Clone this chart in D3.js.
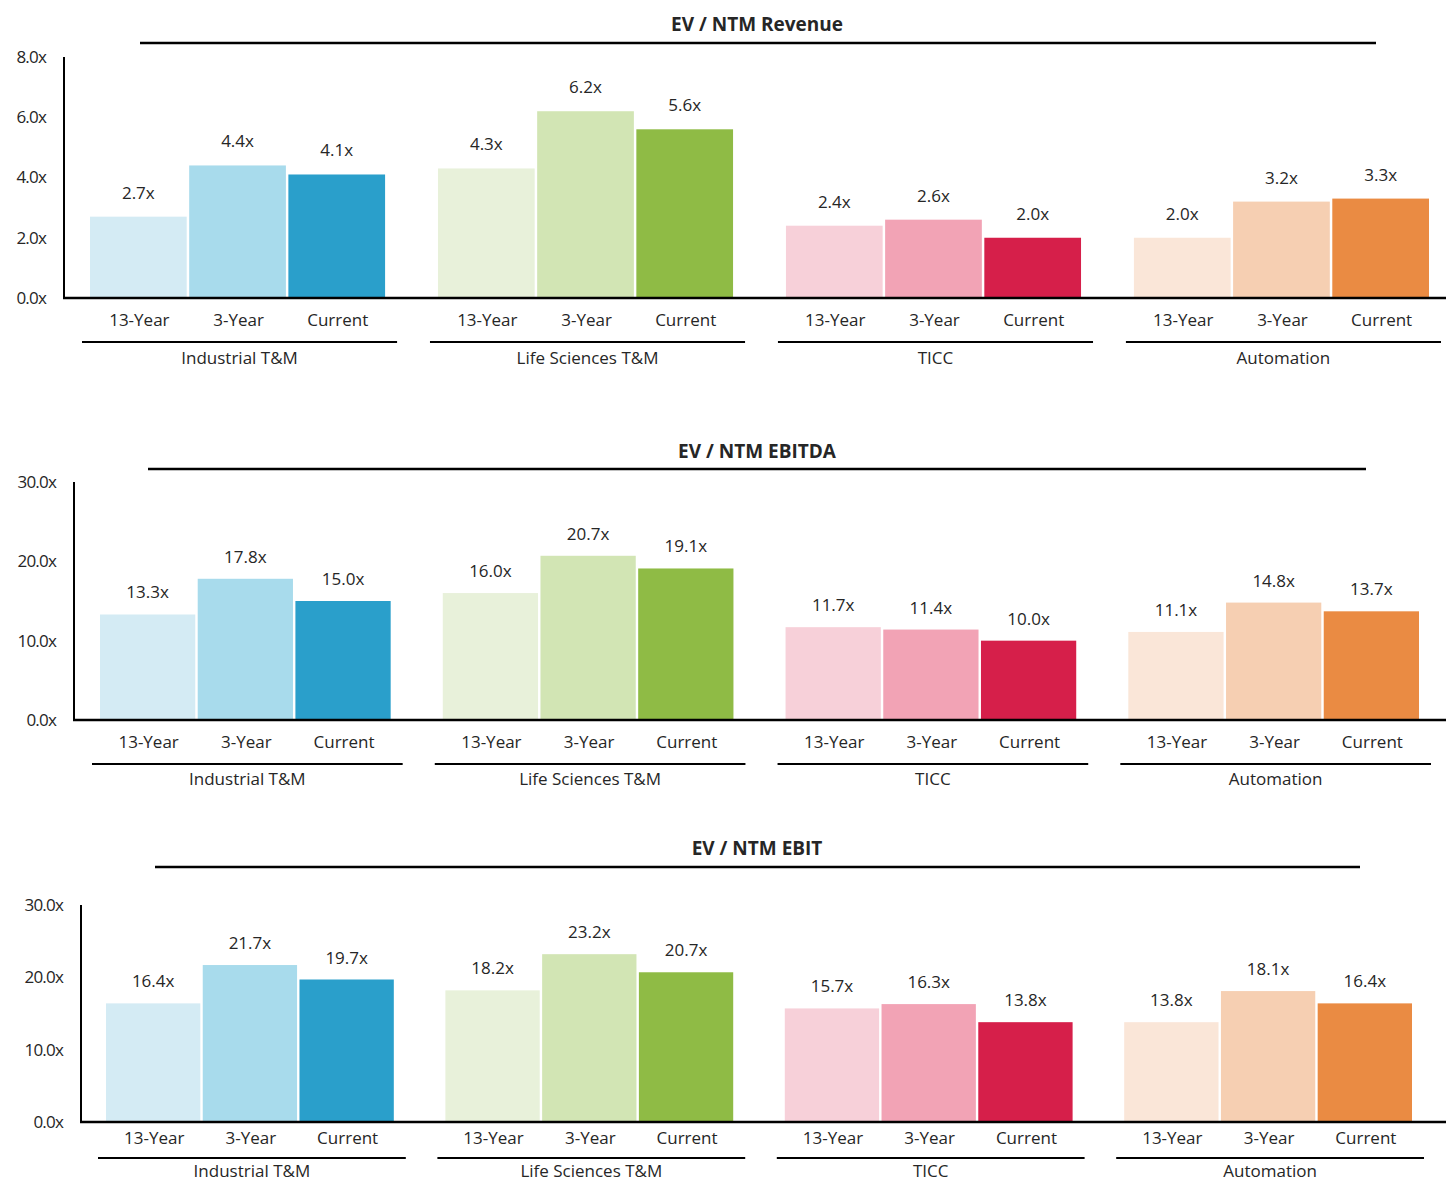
<!DOCTYPE html>
<html>
<head>
<meta charset="utf-8">
<script src="https://cdn.jsdelivr.net/npm/d3@7"></script>
<style>
  html, body { margin: 0; padding: 0; background: #fff; }
  svg { display: block; }
  text { font-family: "Open Sans", "DejaVu Sans", sans-serif; fill: #262626; }
</style>
</head>
<body>
<svg id="chart" width="1446" height="1181"></svg>
<script>
// ---- data ----
const sectors = ["Industrial T&M", "Life Sciences T&M", "TICC", "Automation"];
const periods = ["13-Year", "3-Year", "Current"];
const titles = ["EV / NTM Revenue", "EV / NTM EBITDA", "EV / NTM EBIT"];

const revenueValues = [[2.7, 4.4, 4.1], [4.3, 6.2, 5.6], [2.4, 2.6, 2.0], [2.0, 3.2, 3.3]];
const ebitdaValues  = [[13.3, 17.8, 15.0], [16.0, 20.7, 19.1], [11.7, 11.4, 10.0], [11.1, 14.8, 13.7]];
const ebitValues    = [[16.4, 21.7, 19.7], [18.2, 23.2, 20.7], [15.7, 16.3, 13.8], [13.8, 18.1, 16.4]];

const revenueTicks = [0, 2, 4, 6, 8];
const ebitdaTicks  = [0, 10, 20, 30];
const ebitTicks    = [0, 10, 20, 30];

const sectorColors = [
  ["#d4ebf4", "#a8dbec", "#2a9fcb"],
  ["#e8f1da", "#d2e5b4", "#8fbb45"],
  ["#f7d0d9", "#f2a3b5", "#d61f4a"],
  ["#fae6d8", "#f6cfb2", "#ea8b43"]
];

// ---- layout (positions only) ----
const panels = [
  { values: revenueValues, ticks: revenueTicks, max: 8,  axisX: 64, yTop: 57,  yBase: 298,
    gx0: 90,  gx1: 1429, titleY: 31,  ruleY: 43,  ruleX: [140, 1376],
    catY: 326, lineY: 342, grpY: 364, lblOff: 18 },
  { values: ebitdaValues, ticks: ebitdaTicks, max: 30, axisX: 74, yTop: 482, yBase: 720,
    gx0: 100, gx1: 1419, titleY: 458, ruleY: 469, ruleX: [148, 1366],
    catY: 748, lineY: 764, grpY: 785, lblOff: 16 },
  { values: ebitValues, ticks: ebitTicks, max: 30, axisX: 81, yTop: 905, yBase: 1122,
    gx0: 106, gx1: 1412, titleY: 855, ruleY: 867, ruleX: [155, 1360],
    catY: 1144, lineY: 1158, grpY: 1177, lblOff: 16 }
];

const svg = d3.select("#chart");

panels.forEach((p, pi) => {
  const g = svg.append("g");

  const y = d3.scaleLinear().domain([0, p.max]).range([p.yBase, p.yTop]);
  const x0 = d3.scaleBand().domain(sectors).range([p.gx0, p.gx1]).paddingInner(0.152).paddingOuter(0);
  const x1 = d3.scaleBand().domain(periods).range([0, x0.bandwidth()]).paddingInner(0.025).paddingOuter(0);

  // title
  g.append("text")
    .attr("x", 757).attr("y", p.titleY)
    .attr("text-anchor", "middle")
    .style("font-size", "19px").style("font-weight", "700")
    .text(titles[pi]);
  g.append("line")
    .attr("x1", p.ruleX[0]).attr("x2", p.ruleX[1])
    .attr("y1", p.ruleY).attr("y2", p.ruleY)
    .attr("stroke", "#000").attr("stroke-width", 2.5);

  // y axis tick labels
  const yAxis = d3.axisLeft(y).tickValues(p.ticks).tickSize(0).tickPadding(18)
    .tickFormat(d => d3.format(".1f")(d) + "x");
  const ya = g.append("g").attr("transform", `translate(${p.axisX},0)`).call(yAxis);
  ya.attr("font-size", null).attr("font-family", null);
  ya.select(".domain").remove();
  ya.selectAll("text")
    .style("font-family", "'Open Sans', sans-serif")
    .style("font-size", "17px").attr("fill", "#262626").style("letter-spacing", "-0.8px");

  // bars
  sectors.forEach((s, si) => {
    const sg = g.append("g").attr("transform", `translate(${x0(s)},0)`);
    sg.selectAll("rect")
      .data(p.values[si])
      .join("rect")
      .attr("x", (d, i) => x1(periods[i]))
      .attr("y", d => y(d))
      .attr("width", x1.bandwidth())
      .attr("height", d => y(0) - y(d))
      .attr("fill", (d, i) => sectorColors[si][i]);

    sg.selectAll("text.val")
      .data(p.values[si])
      .join("text")
      .attr("class", "val")
      .attr("x", (d, i) => x1(periods[i]) + x1.bandwidth() / 2)
      .attr("y", d => y(d) - p.lblOff)
      .attr("text-anchor", "middle")
      .style("font-size", "17px")
      .text(d => d3.format(".1f")(d) + "x");

    sg.selectAll("text.cat")
      .data(periods)
      .join("text")
      .attr("class", "cat")
      .attr("x", d => x1(d) + x1.bandwidth() / 2 + 1)
      .attr("y", p.catY)
      .attr("text-anchor", "middle")
      .style("font-size", "17px")
      .text(d => d);

    const cx = x0.bandwidth() / 2 + 2;
    const half = x0.bandwidth() / 2 + 10;
    sg.append("line")
      .attr("x1", cx - half).attr("x2", cx + half)
      .attr("y1", p.lineY).attr("y2", p.lineY)
      .attr("stroke", "#000").attr("stroke-width", 2);
    sg.append("text")
      .attr("x", cx).attr("y", p.grpY)
      .attr("text-anchor", "middle")
      .style("font-size", "17px")
      .text(s);
  });

  // axis lines
  g.append("line")
    .attr("x1", p.axisX).attr("x2", p.axisX)
    .attr("y1", y(p.max)).attr("y2", y(0) + 1)
    .attr("stroke", "#000").attr("stroke-width", 2);
  g.append("line")
    .attr("x1", p.axisX - 1).attr("x2", 1446)
    .attr("y1", y(0)).attr("y2", y(0))
    .attr("stroke", "#000").attr("stroke-width", 2.5);
});
</script>
</body>
</html>
